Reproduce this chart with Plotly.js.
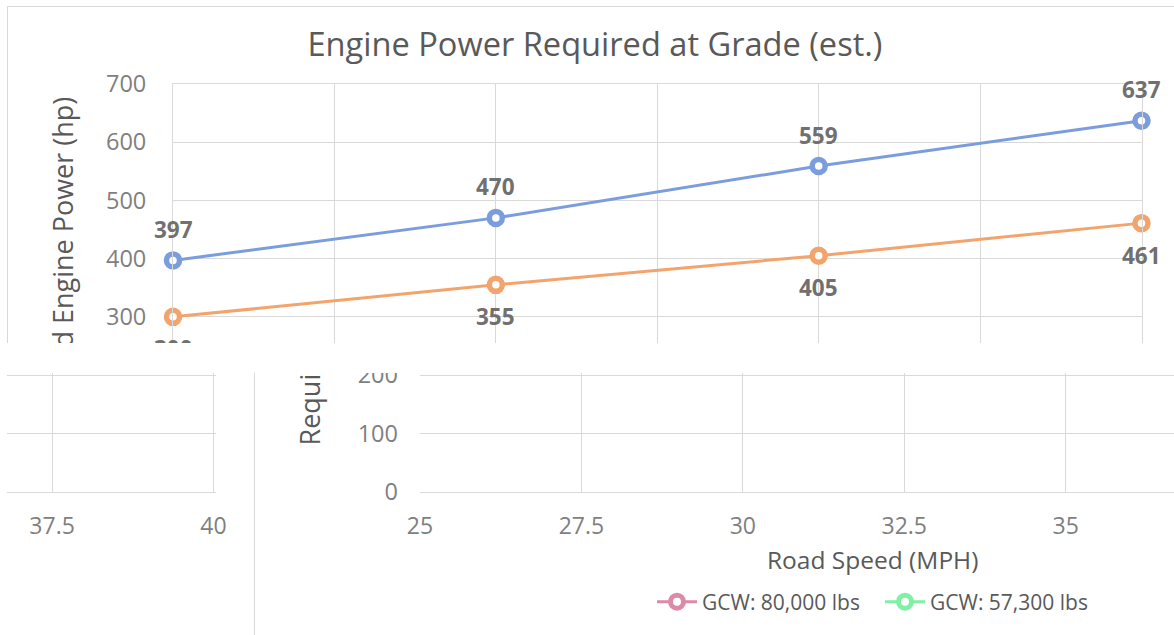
<!DOCTYPE html>
<html><head><meta charset="utf-8">
<script src="https://cdn.plot.ly/plotly-3.0.1.min.js"></script>
<style>
html,body{margin:0;padding:0;background:#fff;width:1174px;height:635px;overflow:hidden;}
.clip{position:absolute;overflow:hidden;}
.clip>div{position:absolute;width:1175px;height:635px;}
#cTop{left:0;top:0;width:1174px;height:343px;}
#cTop>div{left:0;top:0;}
#cBR{left:230px;top:373px;width:944px;height:262px;}
#cBR>div{left:17px;top:-373px;}
#cBL{left:7px;top:373px;width:223px;height:262px;}
#cBL>div{left:-935px;top:-373px;}
</style></head><body>
<div id="cTop" class="clip"><div id="pTop"></div></div>
<div id="cBR" class="clip"><div id="pBR"></div></div>
<div id="cBL" class="clip"><div id="pBL"></div></div>
<script>
// ---- data ----
const chartTitle = 'Engine Power Required at Grade (est.)';
const xTitle = 'Road Speed (MPH)';
const yTitle = 'Required Engine Power (hp)';
const roadSpeed = [25, 30, 35, 40];
const power80k = [397, 470, 559, 637];
const power57k = [300, 355, 405, 461];
const seriesNames = ['GCW: 80,000 lbs', 'GCW: 57,300 lbs'];
const xTickVals = [25, 27.5, 30, 32.5, 35, 37.5, 40];
const xTickText = ['25', '27.5', '30', '32.5', '35', '37.5', '40'];
const yTickVals = [0, 100, 200, 300, 400, 500, 600, 700];
const yTickText = ['0', '100', '200', '300', '400', '500', '600', '700'];

// ---- geometry of the original chart ----
const W = 1175, H = 635;
const X25 = 173, X40 = 1141.5, Y0 = 491.5, Y700 = 84;
const kx = (X40 - X25) / 15;
const pxOfX = v => X25 + (v - 25) * kx;
const FONT = '"Open Sans", sans-serif';
const GRID = '#d9d9d9';

function pick(vals, texts, lo, hi) {
  const v = [], t = [];
  vals.forEach((val, i) => { if (val >= lo && val <= hi) { v.push(val); t.push(texts[i]); } });
  return {v: v, t: t};
}

function figure(opt) {
  const xMax = opt.xMax;
  const xDom = [X25 / W, pxOfX(xMax) / W];
  const yDom = [(H - Y0) / H, (H - Y700) / H];
  const xt = pick(xTickVals, xTickText, opt.xRange[0], opt.xRange[1]);
  const yt = pick(yTickVals, yTickText, opt.yRange[0], opt.yRange[1]);
  const series = [power80k, power57k];
  const traces = series.map((ys, k) => ({
    type: 'scatter', x: roadSpeed, y: ys, name: seriesNames[k],
    mode: 'lines+markers',
    line: {color: opt.colors[k], width: 3},
    marker: {symbol: 'circle', size: 13, color: '#ffffff', line: {color: opt.colors[k], width: 5.5}},
    cliponaxis: false, hoverinfo: 'skip'
  }));
  const ann = [];
  if (opt.labels) {
    roadSpeed.forEach((x, i) => {
      ann.push({x: x, y: power80k[i], xref: 'x', yref: 'y', text: String(power80k[i]),
        showarrow: false, yshift: 31, xanchor: 'center', yanchor: 'middle',
        font: {family: FONT, size: 22.5, color: '#707070', weight: 'bold'}});
      ann.push({x: x, y: power57k[i], xref: 'x', yref: 'y', text: String(power57k[i]),
        showarrow: false, yshift: -32, xanchor: 'center', yanchor: 'middle',
        font: {family: FONT, size: 22.5, color: '#707070', weight: 'bold'}});
    });
  }
  if (opt.yTitle) {
    ann.push({xref: 'paper', yref: 'paper', x: 62 / W, y: (H - 271.5) / H, text: yTitle,
      textangle: -90, showarrow: false, xanchor: 'center', yanchor: 'middle',
      font: {family: FONT, size: 27, color: '#595959'}});
  }
  if (opt.xTitle) {
    ann.push({xref: 'paper', yref: 'paper', x: 625 / W, y: (H - 559) / H, text: xTitle,
      showarrow: false, xanchor: 'center', yanchor: 'middle',
      font: {family: FONT, size: 24.5, color: '#595959'}});
  }
  const layout = {
    width: W, height: H, autosize: false,
    margin: {l: 0, r: 0, t: 0, b: 0, pad: 0},
    paper_bgcolor: '#ffffff', plot_bgcolor: '#ffffff',
    font: {family: FONT, color: '#595959'},
    title: {text: opt.title ? chartTitle : '', font: {family: FONT, size: 32.6, color: '#595959'},
      x: 595 / W, xanchor: 'center', y: 1 - 45 / H, yanchor: 'middle', xref: 'container', yref: 'container'},
    showlegend: opt.legend,
    legend: {orientation: 'h', x: 405 / W, xanchor: 'left', y: (H - 602) / H, yanchor: 'middle',
      font: {family: FONT, size: 21, color: '#595959'}, itemwidth: 40,
      entrywidth: 173, entrywidthmode: 'pixels', traceorder: 'normal', bgcolor: 'rgba(0,0,0,0)'},
    xaxis: {domain: xDom, range: [25, xMax], tickmode: 'array', tickvals: xt.v, ticktext: xt.t,
      showticklabels: opt.xTicks,
      showgrid: true, gridcolor: GRID, gridwidth: 1, zeroline: false,
      showline: true, mirror: true, linecolor: GRID, linewidth: 1,
      ticks: '', tickfont: {family: FONT, size: 23, color: '#7f7f7f'}, ticklabelstandoff: 14, fixedrange: true},
    yaxis: {domain: yDom, range: [0, 700], tickmode: 'array', tickvals: yt.v, ticktext: yt.t,
      showticklabels: opt.yTicks,
      showgrid: true, gridcolor: GRID, gridwidth: 1, zeroline: false,
      showline: opt.showYLine, mirror: true, linecolor: GRID, linewidth: 1,
      ticks: '', tickfont: {family: FONT, size: 23.5, color: '#7f7f7f'}, ticklabelstandoff: 21, fixedrange: true},
    annotations: ann,
    shapes: [{type: 'rect', xref: 'paper', yref: 'paper', x0: 7.5 / W, x1: 1.2, y0: 1 - 6.5 / H, y1: -0.2,
      line: {color: GRID, width: 1}, fillcolor: 'rgba(0,0,0,0)', layer: 'above'}]
  };
  return {data: traces, layout: layout};
}

const cfg = {staticPlot: true, displayModeBar: false, responsive: false};
// upper band of the picture: the chart as drawn
const topFig = figure({colors: ['#7b9ddd', '#f3a36c'], showYLine: true, xMax: 40,
  xRange: [25, 40], yRange: [300, 700],
  title: true, labels: true, yTitle: true, xTitle: false, legend: false, xTicks: false, yTicks: true});
// lower band: the same chart, shifted sideways (wrapped), with shifted legend colours
const brFig = figure({colors: ['#dd8aa8', '#80f0a4'], showYLine: false, xMax: 40.04,
  xRange: [25, 35], yRange: [0, 200],
  title: false, labels: false, yTitle: true, xTitle: true, legend: true, xTicks: true, yTicks: true});
const blFig = figure({colors: ['#dd8aa8', '#80f0a4'], showYLine: false, xMax: 40.04,
  xRange: [37.5, 40], yRange: [0, 200],
  title: false, labels: false, yTitle: false, xTitle: false, legend: false, xTicks: true, yTicks: false});
Plotly.newPlot('pTop', topFig.data, topFig.layout, cfg);
Plotly.newPlot('pBR', brFig.data, brFig.layout, cfg);
Plotly.newPlot('pBL', blFig.data, blFig.layout, cfg);
</script>
</body></html>
